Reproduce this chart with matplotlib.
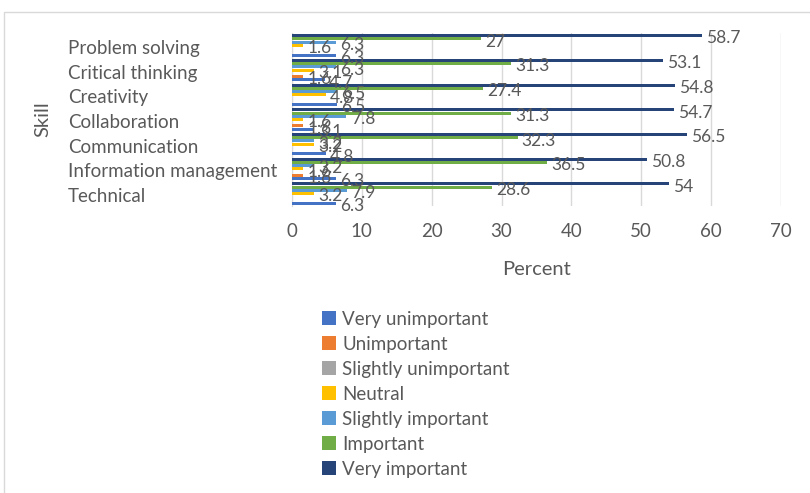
import numpy as np
import matplotlib
matplotlib.use("Agg")
import matplotlib.pyplot as plt
from matplotlib.patches import Rectangle
from matplotlib.transforms import ScaledTranslation

plt.rcParams['font.family'] = ['Lato', 'DejaVu Sans']

skills = ["Problem solving", "Critical thinking", "Creativity", "Collaboration",
          "Communication", "Information management", "Technical"]

series_names = ["Very unimportant", "Unimportant", "Slightly unimportant", "Neutral",
                "Slightly important", "Important", "Very important"]

very_unimportant = [6.3, 4.7, 6.5, 3.1, 4.8, 6.3, 6.3]
unimportant = [0, 1.6, 0, 1.6, 0, 1.6, 0]
slightly_unimportant = [0, 0, 0, 0, 0, 0, 0]
neutral = [1.6, 3.1, 4.8, 1.6, 3.2, 1.6, 3.2]
slightly_important = [6.3, 6.3, 6.5, 7.8, 3.2, 3.2, 7.9]
important = [27, 31.3, 27.4, 31.3, 32.3, 36.5, 28.6]
very_important = [58.7, 53.1, 54.8, 54.7, 56.5, 50.8, 54]

colors = ["#4472C4", "#ED7D31", "#A5A5A5", "#FFC000", "#5B9BD5", "#70AD47", "#264478"]
xticks = [0, 10, 20, 30, 40, 50, 60, 70]

values = [very_unimportant, unimportant, slightly_unimportant, neutral,
          slightly_important, important, very_important]

text_color = "#595959"

fig = plt.figure(figsize=(8.1, 4.93), dpi=100)
fig.patch.set_facecolor("white")

# light frame around the chart area
fig.add_artist(Rectangle((4 / 810, -0.1), 1.2, 1 - 12 / 493 + 0.1,
                         transform=fig.transFigure, fill=False,
                         edgecolor="#D9D9D9", linewidth=1.0))

ax = fig.add_axes([292 / 810, 1 - 206 / 493, (781 - 292) / 810, (206 - 33) / 493])

n_series = len(values)
slot = 0.915 / n_series
y = np.arange(len(skills))

for j, (name, vals, col) in enumerate(zip(series_names, values, colors)):
    offset = (3 - j) * slot
    ypos = y + offset
    ax.barh(ypos, vals, height=slot * 0.92, color=col, label=name, zorder=3)
    for yy, v in zip(ypos, vals):
        if v > 0:
            lbl = f"{v:g}"
            ax.annotate(lbl, xy=(v, yy), xytext=(3, -2), textcoords="offset points",
                        ha="left", va="center", fontsize=12.5, color=text_color,
                        zorder=5)

ax.set_ylim(len(skills) - 0.5, -0.5)
ax.set_xlim(0, 70)
ax.set_xticks(xticks)
ax.set_yticks(y)
ax.set_yticklabels(skills)
ax.tick_params(axis="both", length=0, labelsize=13.5, colors=text_color)
ax.tick_params(axis="x", pad=12)
ax.tick_params(axis="y", pad=(292 - 68) * 72 / 100)
shift_down = ScaledTranslation(0, -3 / 100, fig.dpi_scale_trans)
for lab in ax.get_yticklabels():
    lab.set_horizontalalignment("left")
    lab.set_verticalalignment("center")
    lab.set_transform(lab.get_transform() + shift_down)
ax.grid(axis="x", color="#D9D9D9", linewidth=1.0, zorder=0)
for side in ["top", "right", "bottom"]:
    ax.spines[side].set_visible(False)
ax.spines["left"].set_color("#D9D9D9")

ax.set_xlabel("Percent", fontsize=14.5, color=text_color, labelpad=15)
ax.set_ylabel("Skill", fontsize=14.5, color=text_color)
ax.yaxis.set_label_coords((51 - 292) / (781 - 292), 0.5)

handles, labels = ax.get_legend_handles_labels()
leg = fig.legend(handles, labels, loc="upper left",
                 bbox_to_anchor=(314 / 810, 1 - 303 / 493), ncol=1, frameon=False,
                 fontsize=13.5, handlelength=0.75, handleheight=0.75,
                 handletextpad=0.35, labelspacing=0.43, borderaxespad=0)
for t in leg.get_texts():
    t.set_color(text_color)

fig.savefig("out.png", dpi=100, facecolor="white")
